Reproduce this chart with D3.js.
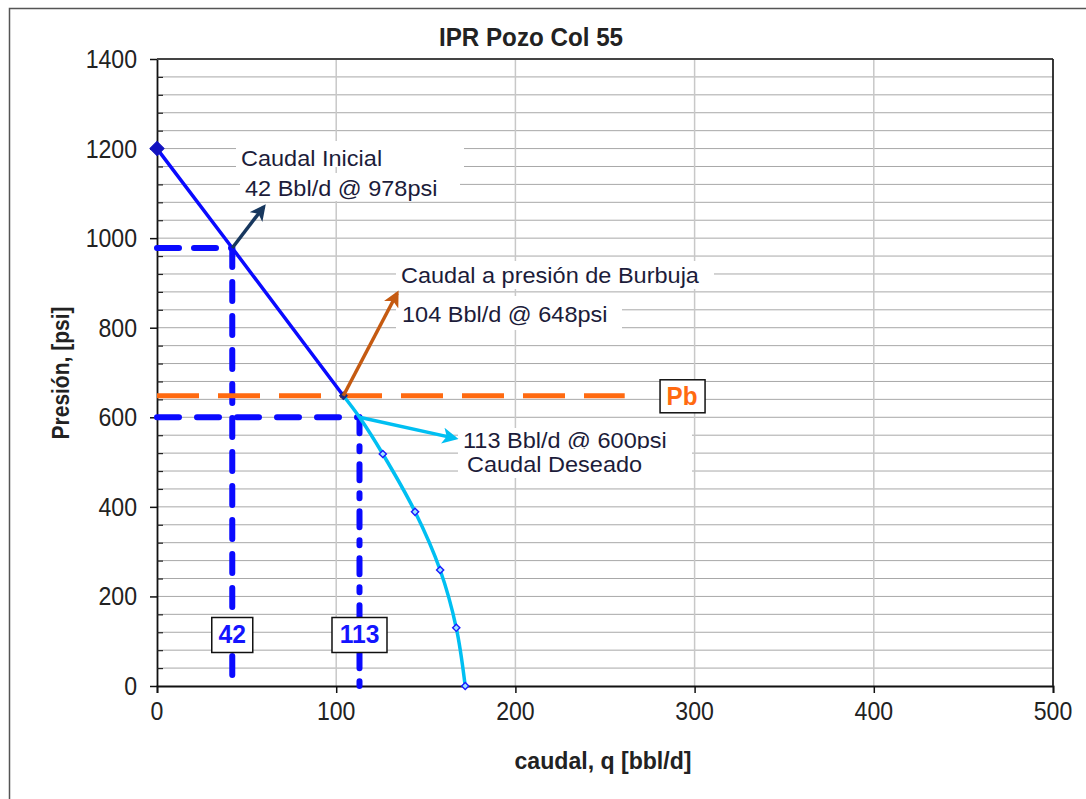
<!DOCTYPE html>
<html><head><meta charset="utf-8">
<script src="https://cdn.jsdelivr.net/npm/d3@7"></script>
<style>
html,body{margin:0;padding:0;background:#fff;}
svg{display:block;font-family:"Liberation Sans",Arial,sans-serif;}
</style></head>
<body>
<svg id="chart" width="1086" height="799"></svg>
<script>
// ---------- data ----------
const title = "IPR Pozo Col 55";
const xLabel = "caudal, q [bbl/d]";
const yLabel = "Presión, [psi]";
const xTicks = [0, 100, 200, 300, 400, 500];
const yTicks = [0, 200, 400, 600, 800, 1000, 1200, 1400];
const yMinorTicks = [40, 80, 120, 160, 240, 280, 320, 360, 440, 480, 520, 560, 640, 680, 720, 760, 840, 880, 920, 960, 1040, 1080, 1120, 1160, 1240, 1280, 1320, 1360];
const iprLinear = [[0, 1200], [42, 978], [104, 648]];
const iprVogel = [[104, 648], [113, 600], [126, 518], [144, 389], [158, 259], [167, 130], [172, 0]];
const vogelMarkers = [[126, 518], [144, 389], [158, 259], [167, 130], [172, 0]];
const pbLine = [[0, 648], [261, 648]];
const initialPoint = [42, 978];
const desiredPoint = [113, 600];
const bubblePoint = [104, 648];
const arrowInicial = [[42, 978], [59.6, 1070]];
const arrowBurbuja = [[104, 648], [134, 877]];
const arrowDeseado = [[113, 600], [166.5, 553]];
const noteInicial = ["Caudal Inicial", "42 Bbl/d @ 978psi"];
const noteBurbuja = ["Caudal a presión de Burbuja", "104 Bbl/d @ 648psi"];
const noteDeseado = ["113 Bbl/d @ 600psi", "Caudal Deseado"];
const boxLabels = [["42", 42, 115], ["113", 113, 115]];
const pbLabel = ["Pb", 293, 648];

// ---------- setup ----------
const svg = d3.select("#chart");
const x = d3.scaleLinear().domain([0, 500]).range([157, 1053]);
const y = d3.scaleLinear().domain([0, 1400]).range([686, 59]);
const BLUE = "#0a0aff", CYAN = "#00bff2", ORANGE = "#ff6a10", BROWN = "#c55a11", NAVY = "#17375e";

function txt(g, px, py, s, o = {}) {
  return g.append("text")
    .attr("transform", `translate(${px},${py}) scale(${o.sx || 1.12},${o.sy || 1})`)
    .attr("text-anchor", o.anchor || "start")
    .attr("font-size", o.size || 21)
    .attr("font-weight", o.bold ? "bold" : "normal")
    .attr("fill", o.fill || "#222")
    .text(s);
}

// outer frame
svg.append("path").attr("d", "M9.5,799 L9.5,8.5 L1086,8.5").attr("fill", "none").attr("stroke", "#555").attr("stroke-width", 1.5);

// gridlines
const grid = svg.append("g");
grid.selectAll("line.h").data(yMinorTicks.concat(yTicks.filter(d => d > 0 && d < 1400))).join("line")
  .attr("x1", x(0)).attr("x2", x(500)).attr("y1", d => y(d)).attr("y2", d => y(d))
  .attr("stroke", "#a8a8a8").attr("stroke-width", 1);
grid.selectAll("line.v").data(xTicks.filter(d => d > 0 && d < 500)).join("line")
  .attr("x1", d => x(d)).attr("x2", d => x(d)).attr("y1", y(0)).attr("y2", y(1400))
  .attr("stroke", "#c8c8c8").attr("stroke-width", 1.5);

// white annotation backgrounds
const bgs = [[236, 141, 228, 26], [240, 173, 220, 28], [396, 261, 318, 28], [396, 296, 226, 34], [458, 428, 234, 50]];
svg.selectAll("rect.bg").data(bgs).join("rect")
  .attr("x", d => d[0]).attr("y", d => d[1]).attr("width", d => d[2]).attr("height", d => d[3]).attr("fill", "#fff");

// axes
const ax = svg.append("g");
ax.append("g").attr("transform", `translate(0,${y(0)})`)
  .call(d3.axisBottom(x).tickValues(xTicks).tickSize(7).tickFormat(d3.format("d")))
  .call(g => g.select(".domain").attr("stroke", "#111").attr("stroke-width", 1.8))
  .call(g => g.selectAll(".tick line").attr("stroke", "#111").attr("stroke-width", 1.5))
  .call(g => g.selectAll(".tick text").remove());
ax.append("g").attr("transform", `translate(${x(0)},0)`)
  .call(d3.axisLeft(y).tickValues(yTicks).tickSize(7).tickSizeOuter(0).tickFormat(""))
  .call(g => g.select(".domain").attr("stroke", "#111").attr("stroke-width", 1.8))
  .call(g => g.selectAll(".tick line").attr("stroke", "#111").attr("stroke-width", 1.5));
ax.append("g").attr("transform", `translate(${x(0)},0)`)
  .call(d3.axisRight(y).tickValues(yMinorTicks).tickSize(6).tickFormat(""))
  .call(g => g.select(".domain").remove())
  .call(g => g.selectAll(".tick line").attr("stroke", "#222").attr("stroke-width", 1.2));
ax.append("line").attr("x1", x(0)).attr("x2", x(500)).attr("y1", y(1400)).attr("y2", y(1400)).attr("stroke", "#444").attr("stroke-width", 2);
ax.append("line").attr("x1", x(500)).attr("x2", x(500)).attr("y1", y(1400)).attr("y2", y(0)).attr("stroke", "#222").attr("stroke-width", 1.8);

// tick labels
xTicks.forEach(d => txt(svg, x(d), y(0) + 34, String(d), {anchor: "middle", size: 21, sx: 1.1, sy: 1.22, fill: "#222"}));
yTicks.forEach(d => txt(svg, 137, y(d) + 9, String(d), {anchor: "end", size: 21, sx: 1.1, sy: 1.22, fill: "#222"}));

// titles
txt(svg, 531, 46, title, {anchor: "middle", size: 22, bold: true, sx: 1.1, sy: 1.18});
txt(svg, 603, 769, xLabel, {anchor: "middle", size: 21, bold: true, sx: 1.1, sy: 1.18});
svg.append("text").attr("transform", `translate(69,373) rotate(-90) scale(1.05,1.2)`)
  .attr("text-anchor", "middle").attr("font-size", 20).attr("font-weight", "bold").attr("fill", "#222").text(yLabel);

// dashed reference lines
const lineGen = d3.line().x(d => x(d[0])).y(d => y(d[1]));
const dashes = svg.append("g").attr("fill", "none").attr("stroke", BLUE).attr("stroke-width", 6).attr("stroke-linecap", "round");
dashes.append("path").attr("d", lineGen([[0, initialPoint[1]], initialPoint])).attr("stroke-dasharray", "22,15");
dashes.append("path").attr("d", lineGen([initialPoint, [initialPoint[0], 0]])).attr("stroke-dasharray", "19,15");
dashes.append("path").attr("d", lineGen([[0, desiredPoint[1]], desiredPoint])).attr("stroke-dasharray", "22,18");
dashes.append("path").attr("d", lineGen([desiredPoint, [desiredPoint[0], 0]])).attr("stroke-dasharray", "16,13,5,13");

// Pb line
svg.append("path").attr("d", lineGen(pbLine)).attr("fill", "none").attr("stroke", ORANGE)
  .attr("stroke-width", 5).attr("stroke-dasharray", "42,19");

// IPR curves
svg.append("path").attr("d", lineGen(iprLinear)).attr("fill", "none").attr("stroke", BLUE).attr("stroke-width", 3.5);
svg.append("path").attr("d", d3.line().x(d => x(d[0])).y(d => y(d[1])).curve(d3.curveCatmullRom)(iprVogel))
  .attr("fill", "none").attr("stroke", CYAN).attr("stroke-width", 3.5);

// markers (diamonds = rotated squares)
const sq = d3.symbol().type(d3.symbolSquare);
svg.append("path").attr("d", sq.size(100)()).attr("transform", `translate(${x(0)},${y(1200)}) rotate(45)`).attr("fill", "#1212c0").attr("stroke", "#1212c0");
svg.append("path").attr("d", sq.size(30)()).attr("transform", `translate(${x(bubblePoint[0])},${y(bubblePoint[1])}) rotate(45)`).attr("fill", "#1a2a80").attr("stroke", "#1a2a80");
svg.selectAll("path.vm").data(vogelMarkers).join("path").attr("class", "vm")
  .attr("d", sq.size(26)()).attr("transform", d => `translate(${x(d[0])},${y(d[1])}) rotate(45)`)
  .attr("fill", "#9fe4ff").attr("stroke", "#1a1aff").attr("stroke-width", 1.4);

// arrows
const defs = svg.append("defs");
function arrow(data, color, id) {
  defs.append("marker").attr("id", id).attr("viewBox", "0 0 10 10").attr("refX", 8).attr("refY", 5)
    .attr("markerWidth", 4.6).attr("markerHeight", 4.6).attr("markerUnits", "strokeWidth").attr("orient", "auto")
    .append("path").attr("d", "M0,0 L10,5 L0,10 L2.5,5 Z").attr("fill", color);
  svg.append("path").attr("d", lineGen(data)).attr("fill", "none").attr("stroke", color)
    .attr("stroke-width", 3.5).attr("marker-end", `url(#${id})`);
}
arrow(arrowInicial, NAVY, "a1");
arrow(arrowBurbuja, BROWN, "a2");
arrow(arrowDeseado, CYAN, "a3");

// annotation texts
const TC = "#1c1c3a";
txt(svg, 241, 166, noteInicial[0], {fill: TC, sy: 1.05});
txt(svg, 245, 196, noteInicial[1], {fill: TC, sy: 1.05});
txt(svg, 401, 283, noteBurbuja[0], {fill: TC, sy: 1.05});
txt(svg, 402, 322, noteBurbuja[1], {fill: TC, sy: 1.05});
defs.append("clipPath").attr("id", "clipD").append("rect").attr("x", 455).attr("y", 425).attr("width", 240).attr("height", 24);
txt(svg.append("g").attr("clip-path", "url(#clipD)"), 463, 448, noteDeseado[0], {fill: TC, sy: 1.05});
txt(svg, 467, 472, noteDeseado[1], {fill: TC, sy: 1.05});

// value boxes
boxLabels.forEach(([s, q, p]) => {
  const w = s.length === 2 ? 41 : 55;
  svg.append("rect").attr("x", x(q) - w / 2).attr("y", y(p) - 17).attr("width", w).attr("height", 35)
    .attr("fill", "#fff").attr("stroke", "#111").attr("stroke-width", 1.5);
  txt(svg, x(q), y(p) + 9, s, {anchor: "middle", bold: true, fill: "#1414ff", size: 22, sx: 1.12, sy: 1.2});
});
// Pb box
svg.append("rect").attr("x", x(pbLabel[1]) - 22).attr("y", y(pbLabel[2]) - 16).attr("width", 45).attr("height", 33)
  .attr("fill", "#fff").attr("stroke", "#111").attr("stroke-width", 1.5);
txt(svg, x(pbLabel[1]), y(pbLabel[2]) + 9, pbLabel[0], {anchor: "middle", bold: true, fill: ORANGE, size: 22, sx: 1.1, sy: 1.2});
</script>
</body></html>
